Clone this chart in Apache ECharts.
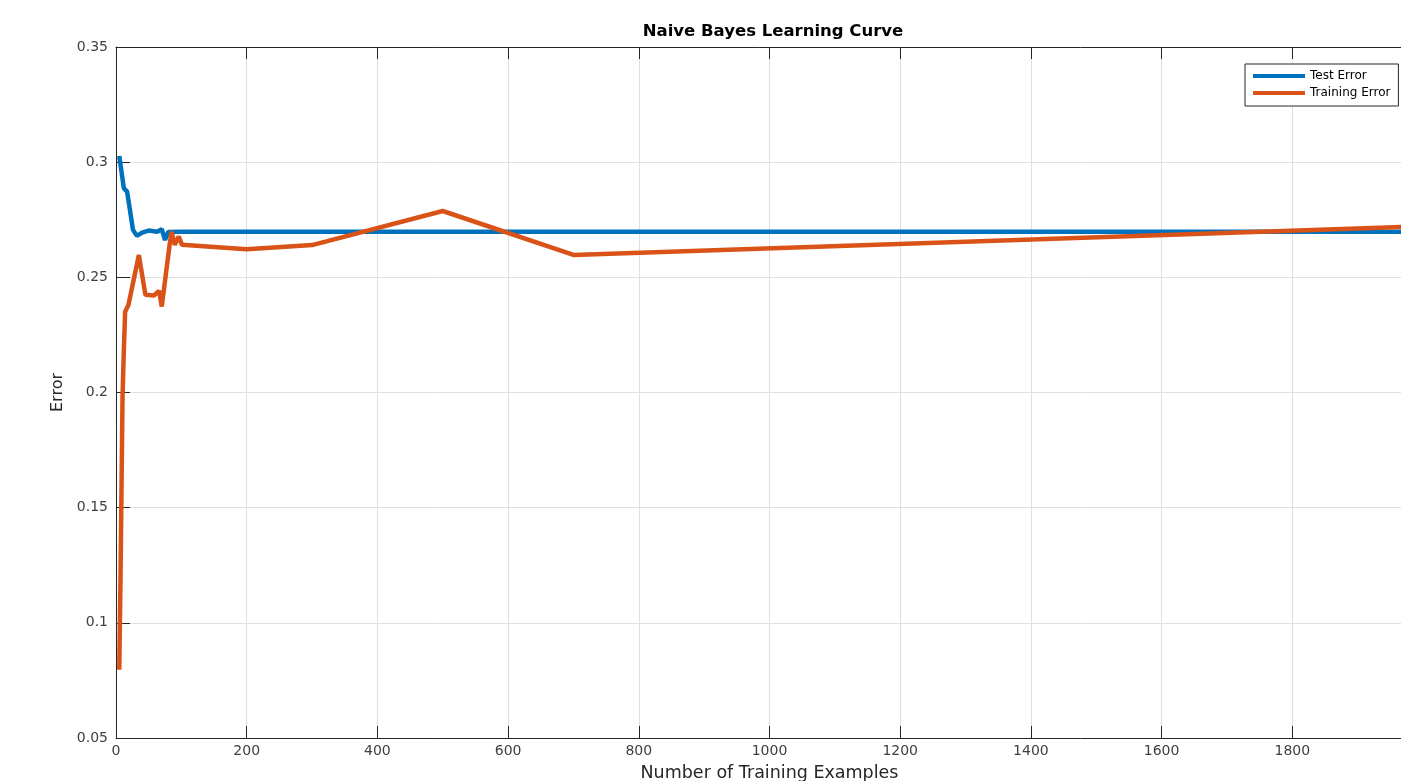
<!DOCTYPE html>
<html>
<head>
<meta charset="utf-8">
<title>Naive Bayes Learning Curve</title>
<script src="https://cdn.jsdelivr.net/npm/echarts@6/dist/echarts.min.js"></script>
<style>
  html, body { margin: 0; padding: 0; background: #fff; }
  #chart { width: 1401px; height: 781px; }
</style>
</head>
<body>
<div id="chart"></div>
<script>
// 数据：值
var testX = [5, 12, 17, 26, 32, 40, 50, 63, 70, 75, 80, 100, 2000];
var testErr = [0.3027, 0.2887, 0.2872, 0.2706, 0.2680, 0.2694, 0.2703, 0.2698, 0.2709, 0.2662, 0.2697, 0.2698, 0.2698];
var trainX = [5, 7, 10, 12, 14, 19, 35, 45, 58, 66, 70, 82, 85, 90, 96, 101, 200, 300, 500, 700, 2000];
var trainErr = [0.0796, 0.1216, 0.1982, 0.2185, 0.2351, 0.2380, 0.2597, 0.2424, 0.2421, 0.2441, 0.2373, 0.2641, 0.2698, 0.2641, 0.2677, 0.2641, 0.2622, 0.2640, 0.2788, 0.2597, 0.2722];
var seriesNames = ['Test Error', 'Training Error'];
var yTicks = [0.05, 0.1, 0.15, 0.2, 0.25, 0.3, 0.35];
var xTicks = [0, 200, 400, 600, 800, 1000, 1200, 1400, 1600, 1800, 2000];

function pairs(xs, ys) {
  var out = [];
  for (var i = 0; i < xs.length; i++) out.push([xs[i], ys[i]]);
  return out;
}

var font = 'DejaVu Sans';
var axisColor = '#262626';
var myChart = echarts.init(document.getElementById('chart'), null, { renderer: 'canvas' });

var option = {
  animation: false,
  backgroundColor: '#fff',
  color: ['#0072BD', '#D95319'],
  title: {
    text: 'Naive Bayes Learning Curve',
    left: 768,
    textAlign: 'center',
    top: 18,
    textStyle: { fontFamily: font, fontSize: 16.5, fontWeight: 'bold', color: '#000' }
  },
  legend: {
    orient: 'vertical',
    left: 1245,
    top: 64,
    padding: [5, 8, 6, 8],
    itemGap: 3,
    itemWidth: 52,
    itemHeight: 4,
    icon: 'rect',
    borderColor: axisColor,
    borderWidth: 1,
    backgroundColor: '#fff',
    data: seriesNames,
    textStyle: { fontFamily: font, fontSize: 12, color: '#000', lineHeight: 14 }
  },
  // 图被裁掉了右边一截，所以宽度超出画布
  grid: { left: 116, top: 47, width: 1307, bottom: 43, outerBoundsMode: 'none', containLabel: false },
  xAxis: [{
    type: 'value',
    min: xTicks[0],
    max: xTicks[xTicks.length - 1],
    interval: 200,
    name: 'Number of Training Examples',
    nameLocation: 'middle',
    nameGap: 26,
    nameTextStyle: { fontFamily: font, fontSize: 17.5, color: '#262626', verticalAlign: 'top' },
    axisLine: { show: true, lineStyle: { color: axisColor, width: 1 } },
    axisTick: { show: true, inside: true, length: 12, lineStyle: { color: axisColor } },
    axisLabel: {
      fontFamily: font, fontSize: 14, color: '#404040', margin: 6,
      formatter: function (v) { return String(v); }
    },
    splitLine: { show: true, lineStyle: { color: '#e0e0e0', width: 1 } }
  }, {
    type: 'value',
    position: 'top',
    min: xTicks[0],
    max: xTicks[xTicks.length - 1],
    interval: 200,
    axisLine: { show: true, lineStyle: { color: axisColor, width: 1 } },
    axisTick: { show: true, inside: true, length: 12, lineStyle: { color: axisColor } },
    axisLabel: { show: false },
    splitLine: { show: false }
  }],
  yAxis: {
    type: 'value',
    min: yTicks[0],
    max: yTicks[yTicks.length - 1],
    interval: 0.05,
    name: 'Error',
    nameLocation: 'middle',
    nameGap: 48,
    nameTextStyle: { fontFamily: font, fontSize: 16, color: '#262626' },
    axisLine: { show: true, lineStyle: { color: axisColor, width: 1 } },
    axisTick: { show: true, inside: true, length: 14, lineStyle: { color: axisColor } },
    axisLabel: {
      fontFamily: font, fontSize: 14, color: '#404040', margin: 8,
      formatter: function (v) { return String(parseFloat(v.toFixed(2))); }
    },
    splitLine: { show: true, lineStyle: { color: '#e0e0e0', width: 1 } }
  },
  series: [{
    name: seriesNames[0],
    type: 'line',
    showSymbol: false,
    symbol: 'none',
    data: pairs(testX, testErr),
    lineStyle: { width: 4.5 },
    z: 3
  }, {
    name: seriesNames[1],
    type: 'line',
    showSymbol: false,
    symbol: 'none',
    data: pairs(trainX, trainErr),
    lineStyle: { width: 4.5 },
    z: 4
  }]
};
myChart.setOption(option);
</script>
</body>
</html>
